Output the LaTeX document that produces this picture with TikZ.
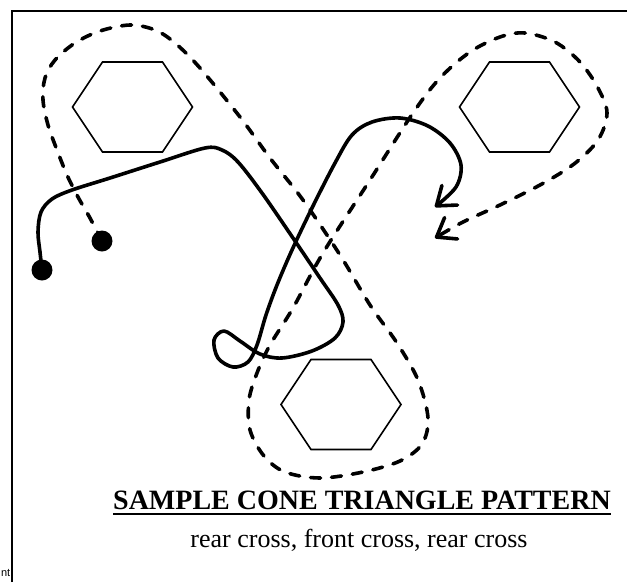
\documentclass[tikz,border=0pt]{standalone}
\usepackage{fontspec}
\setmainfont{Liberation Serif}
\newfontfamily\notefont{Liberation Sans}
\usetikzlibrary{arrows.meta, shapes.geometric}

\begin{document}
\begin{tikzpicture}[
  x=1pt, y=-1pt,
  cone/.style={regular polygon, regular polygon sides=6, draw, line width=1.6pt, minimum size=120pt, inner sep=0pt, yscale=0.866, transform shape},
  knot/.style={circle, fill, minimum size=21pt, inner sep=0pt},
  rope/.style={line width=3.6pt, line cap=round, line join=round, -{Straight Barb[length=17pt, width=25pt, round]}},
  trail/.style={rope, dash pattern=on 10pt off 11pt},
  frame/.style={line width=2.5pt}
]
\useasboundingbox (0,0) rectangle (627,582);

% Frame
\draw[frame] (12,582) -- (12,11) -- (627,11);

% Cones
\node[cone] (coneA) at (132.5,107) {};
\node[cone] (coneB) at (519.5,107) {};
\node[cone] (coneC) at (341,404.5) {};

% Start dots
\node[knot] (startA) at (42,270) {};
\node[knot] (startB) at (102,241) {};
\coordinate (endA) at (435,207);
\coordinate (endB) at (435,238);

% Solid route
\draw[rope] plot[smooth, tension=0.55] coordinates {
  (startA.center) (40,252) (38,232) (41,212) (52,199) (72,190) (110,178) (160,162)
  (205,148) (222,150) (238,162) (262,193) (293,238) (320,278) (338,305) (343,322)
  (335,338) (312,351) (282,358) (260,354) (240,341) (224,331) (214,340) (218,358)
  (233,367) (248,362) (257,345) (266,315) (277,285) (292,250) (312,208) (335,163)
  (352,135) (372,122) (400,118) (428,126) (450,143) (461,165) (456,187) (endA)};

% Dashed route
\draw[trail] plot[smooth, tension=0.55] coordinates {
  (startB.center) (90,218) (78,197) (67,175) (57,150) (48,125) (43,100) (45,78) (55,60)
  (75,43) (100,31) (130,25) (155,30) (175,43) (200,68) (240,117) (270,158) (303,200)
  (340,255) (370,305) (397,343) (418,380) (428,418) (422,444) (400,461) (363,472)
  (320,478) (285,472) (264,456) (250,430) (249,400) (257,373) (270,345) (293,308)
  (323,253) (370,180) (413,113) (440,78) (470,52) (500,37) (525,33) (555,42) (580,62)
  (598,88) (607,113) (598,140) (574,164) (540,185) (500,205) (463,222) (endB)};

% Texts
\node[font=\fontsize{28}{32}\selectfont\bfseries, inner sep=0pt, anchor=base] (title) at (362,509) {SAMPLE CONE TRIANGLE PATTERN};
\draw[line width=2.8pt] ([yshift=-5pt]title.base west) -- ([yshift=-5pt]title.base east);
\node[font=\fontsize{26}{30}\selectfont, inner sep=0pt, anchor=base] (subtitle) at (359,547) {rear cross, front cross, rear cross};
\node[font=\notefont\fontsize{11}{13}\selectfont, inner sep=0pt, anchor=base east] (cut) at (10.5,576) {nt};
\end{tikzpicture}
\end{document}
